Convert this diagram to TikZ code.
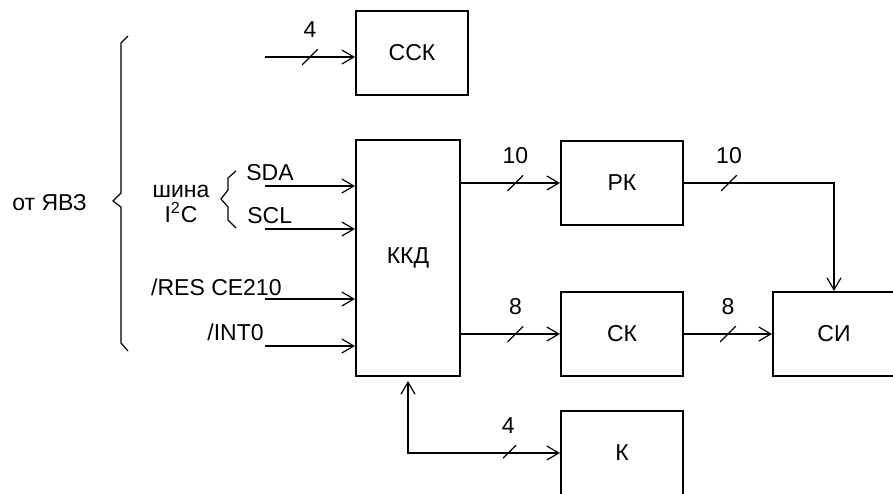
\documentclass[tikz,border=0pt]{standalone}
\usepackage{fontspec}
\setmainfont{Liberation Sans}
\usetikzlibrary{arrows.meta}

\tikzset{
  block/.style={draw, line width=1pt, minimum width=61pt, minimum height=42pt, inner sep=0pt},
  sig/.style={inner sep=0pt},
  wire/.style={line width=0.6pt, -{Straight Barb[length=6pt,width=7pt]}},
  bothwire/.style={line width=0.6pt, {Straight Barb[length=6pt,width=7pt]}-{Straight Barb[length=6pt,width=7pt]}},
  slash/.style={inner sep=0pt, minimum size=8pt,
    path picture={\draw[-, line width=0.6pt] (path picture bounding box.south west) -- (path picture bounding box.north east);}},
  busw/.style={slash, label={[sig, label distance=5pt]above:#1}},
}

\begin{document}
\begin{tikzpicture}[x=0.5pt, y=-0.5pt, font=\fontsize{11.5}{13}\selectfont]
	\useasboundingbox (0,0) rectangle (893,493);
	%% blocks
	\node[block, minimum width=56pt] (ssk) at (412,53) {ССК};
	\node[block, minimum width=52pt, minimum height=118pt] (kkd) at (408,258) {ККД};
	\node[block] (rk) at (622,183) {РК};
	\node[block] (sk) at (622,334) {СК};
	\node[block] (si) at (834,334) {СИ};
	\node[block] (k) at (622,453) {К};
	%% inputs
	\coordinate (inssk) at (265,57);
	\coordinate (insda) at (265,186);
	\coordinate (inscl) at (265,229);
	\coordinate (inres) at (265,299);
	\coordinate (inint) at (265,346);
	\draw[wire] (inssk) -- node[busw=4] {} (inssk -| ssk.west);
	\draw[wire] (insda) -- (insda -| kkd.west);
	\draw[wire] (inscl) -- (inscl -| kkd.west);
	\draw[wire] (inres) -- (inres -| kkd.west);
	\draw[wire] (inint) -- (inint -| kkd.west);
	%% input labels
	\node[sig, anchor=base west] (lsda) at (246,180) {SDA};
	\node[sig, anchor=base west] (lscl) at (247,223) {SCL};
	\node[sig, anchor=base east] (lres) at (282,295) {/RES CE210};
	\node[sig, anchor=base east] (lint) at (264,340) {/INT0};
	\node[sig, anchor=base] (lbus) at (181,197) {шина};
	\node[sig, anchor=base] (li2c) at (181,222) {I\textsuperscript{2}C};
	\node[sig, anchor=base west] (lsrc) at (12,210) {от ЯВЗ};
	%% braces
	\draw[line width=0.6pt] (128,36) -- (121,43) -- (121,193) -- (113,201) -- (121,207) -- (121,343) -- (128,351);
	\draw[line width=0.6pt] (236,171) -- (228,178) -- (228,190) -- (221,199) -- (228,207) -- (228,220) -- (236,228);
	%% outputs
	\draw[wire] (kkd.east |- rk.west) -- node[busw=10, pos=.55] {} (rk.west);
	\draw[wire] (kkd.east |- sk.west) -- node[busw=8, pos=.55] {} (sk.west);
	\draw[wire] (rk.east) -| node[busw=10, pos=.15] {} (si.north);
	\draw[wire] (sk.east) -- node[busw=8] {} (si.west);
	\draw[bothwire, shorten <=2pt] (kkd.south) |- node[busw=4, pos=.83] {} (k.west);
\end{tikzpicture}
\end{document}
